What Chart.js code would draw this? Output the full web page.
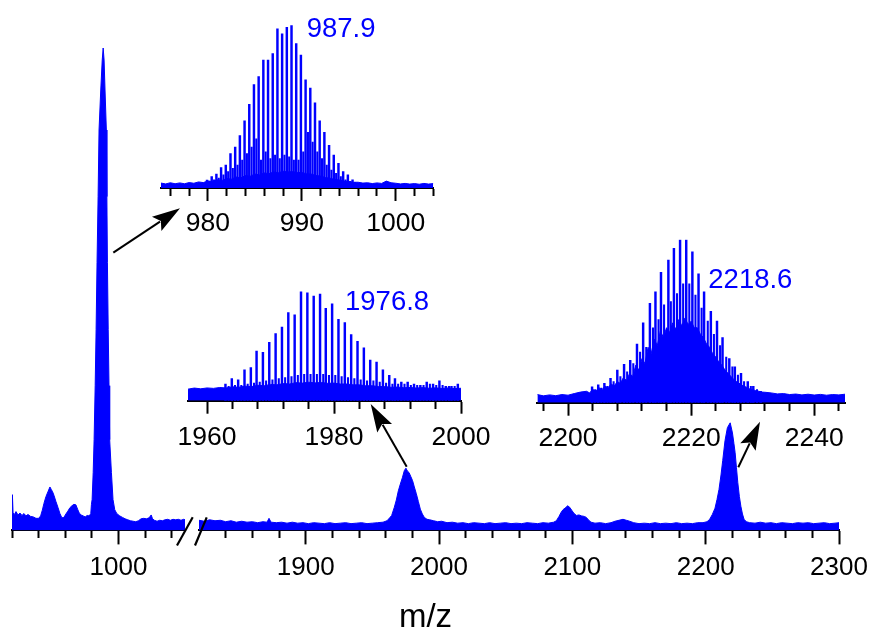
<!DOCTYPE html>
<html><head><meta charset="utf-8">
<script src="https://cdn.jsdelivr.net/npm/chart.js@4"></script>
<style>
html,body{margin:0;padding:0;background:#fff;overflow:hidden;}
#wrap{position:relative;width:872px;height:634px;overflow:hidden;}
canvas{position:absolute;left:0;top:0;}
svg{position:absolute;left:0;top:0;}
</style></head><body>
<div id="wrap">
<canvas id="main" width="872" height="634"></canvas>
<canvas id="in1" width="872" height="634"></canvas>
<canvas id="in2" width="872" height="634"></canvas>
<canvas id="in3" width="872" height="634"></canvas>
<svg id="ov" width="872" height="634" xmlns="http://www.w3.org/2000/svg"></svg>
</div>
<script>
// ---------------- DATA ----------------
// main spectrum, left segment (m/z 920-1050)
const mainLeftMz = [920,920.3,920.8,921.8,923,924.5,926,927.5,929,930.5,932,934,936,938,940,941.5,942.8,944,945.5,947,948.5,949.5,950.5,951.5,953,954.5,956,957.5,959,960.5,962,963.5,965,966.5,968,969.3,970.5,972,973.5,975,976.5,978,979.2,979.7,980.2,981.0,981.7,982.5,983.2,983.9,984.7,985.4,986.7,987.8,988.5,989.2,989.9,990.9,991.3,991.7,992.3,992.9,993.4,994.7,995.9,997.2,998.5,999.6,1001,1003,1005,1007,1009,1011,1013,1015,1017,1019,1021,1023,1024.6,1025.6,1027,1029,1031,1033,1035,1037,1039,1041,1043,1045,1047,1049,1050];
const mainLeftInt = [3.5,7.4,3.6,3.3,3.9,3.2,3.6,3.1,3.5,3.0,3.3,2.9,2.8,2.5,2.5,3.0,4.2,5.6,7.0,8.0,9.0,8.5,8.0,7.3,6.0,4.8,3.5,2.6,2.7,3.4,4.0,4.7,5.1,5.4,5.3,4.4,3.6,3.2,3.0,2.8,3.1,3.0,3.5,5.4,6.4,12.0,18.8,30.0,41.6,55.5,69.2,83.0,91.3,97.5,100,97.5,91.3,83.0,69.2,55.5,41.6,30.0,18.8,12.0,6.4,4.3,3.6,3.3,3.0,2.7,2.4,2.2,2.0,1.9,1.8,2.0,2.4,2.5,2.4,2.6,3.2,2.4,2.1,1.9,2.1,2.0,2.2,2.3,2.1,2.3,2.2,2.3,2.1,2.3,2.2];
// main spectrum, right segment (m/z 1820-2300)
const mainRightMz = [1820,1824,1828,1832,1836,1840,1844,1848,1852,1856,1860,1864,1868,1871,1872.5,1874,1878,1882,1886,1890,1894,1898,1902,1906,1910,1914,1918,1922,1926,1930,1934,1938,1942,1946,1950,1954,1958,1961,1963,1964.5,1966.5,1968,1969.5,1971,1972.5,1974,1975.2,1976.3,1977.5,1978.8,1980.2,1981.5,1983,1984.5,1986,1987.5,1989,1991,1993,1996,1999,2002,2006,2010,2014,2018,2022,2026,2030,2034,2038,2042,2046,2050,2054,2058,2062,2066,2070,2074,2078,2082,2086,2088,2090,2091.5,2093,2094.5,2096.5,2098,2099.5,2101,2103,2105,2107,2109,2110.5,2112,2114,2117,2121,2125,2129,2132,2135,2138,2140.5,2143,2146,2150,2154,2158,2162,2166,2170,2174,2178,2182,2186,2190,2194,2198,2201,2203,2205,2207,2208.5,2210,2211.5,2212.8,2214.5,2216.3,2218.4,2220.1,2221.2,2222.1,2223.1,2224.1,2225.3,2226.4,2227.6,2228.8,2230.5,2233,2237,2241,2245,2249,2253,2257,2261,2265,2269,2273,2277,2281,2285,2289,2293,2297,2300];
const mainRightInt = [2.1,1.9,2.2,2.0,2.1,1.8,2.0,1.7,1.9,1.7,1.8,1.6,1.8,1.7,2.5,1.7,1.6,1.7,1.5,1.7,1.5,1.6,1.4,1.6,1.5,1.4,1.6,1.4,1.5,1.6,1.4,1.5,1.6,1.4,1.5,1.6,1.7,2.0,2.6,3.1,4.8,6.3,8.2,9.6,10.9,12.4,12.9,12.3,12.0,11.2,10.3,9.0,7.6,6.0,4.4,3.4,2.7,2.3,2.2,2.0,1.8,1.9,1.6,1.7,1.5,1.6,1.4,1.6,1.5,1.4,1.6,1.4,1.5,1.6,1.4,1.5,1.4,1.6,1.5,1.4,1.6,1.5,1.7,2.0,2.9,3.7,4.3,4.6,5.1,4.8,4.2,3.6,3.1,3.2,3.0,2.9,2.7,2.2,1.7,1.5,1.6,1.4,1.6,1.9,2.1,2.3,2.1,1.9,1.6,1.4,1.5,1.4,1.6,1.4,1.5,1.4,1.6,1.4,1.5,1.4,1.6,1.6,1.8,2.3,3.3,4.6,6.4,8.5,11.5,14.5,18.6,21.3,22.3,20.2,18.0,16.1,13.0,9.9,7.0,5.0,3.4,2.3,1.8,1.6,1.5,1.7,1.5,1.6,1.4,1.6,1.5,1.4,1.6,1.5,1.6,1.4,1.5,1.6,1.4,1.5,1.6];
const mainLeftTicks = [920,940,960,980,1000,1020,1040];
const mainRightTicks = [1840,1860,1880,1900,1920,1940,1960,1980,2000,2020,2040,2060,2080,2100,2120,2140,2160,2180,2200,2220,2240,2260,2280,2300];
const mainMajor = [1000,1900,2000,2100,2200,2300];

// inset 1 (987.9)
const in1Pos = [979.9,980.4,980.9,981.4,981.9,982.4,982.9,983.4,983.9,984.4,984.9,985.4,985.9,986.4,986.9,987.4,987.9,988.4,988.9,989.4,989.9,990.4,990.9,991.4,991.9,992.4,992.9,993.4,993.9,994.4,994.9,995.4];
const in1H = [4.9,6.9,8.5,12.4,14,21,25,32,41,51,63,68,78,78,82,97,94,98,99,88,81,66,61,52,41,34,26,20,15,10,8,5];
const in1SecPos = [980.15,980.65,981.15,981.65,982.15,982.65,983.15,983.65,984.15,984.65,985.15,985.65,986.15,986.65,987.15,987.65,988.15,988.65,989.15,989.65,990.15,990.65,991.15,991.65,992.15,992.65,993.15,993.65,994.15,994.65,995.15,995.65];
const in1SecH = [4,5,6,8,10,12,14,17,21,25,30,17,22,18,20,18,20,19,17,17,22,34,28,22,18,14,11,9,7,5,4,3.5];
const in1BaseMz = [975,975.5,976,976.5,977,977.5,978,978.5,979,979.5,980,980.5,981,981.5,982,982.5,983,983.5,984,984.5,985,985.5,986,986.5,987,987.5,988,988.5,989,989.5,990,990.5,991,991.5,992,992.5,993,993.5,994,994.5,995,995.5,996,996.5,997,997.5,998,998.5,999,999.5,1000,1000.5,1001,1001.5,1002,1002.5,1003,1003.5,1004];
const in1BaseH = [3.0,2.5,3.2,2.6,3.1,2.6,3.3,2.9,3.7,3.3,4.3,3.9,5.0,4.6,5.8,5.4,6.7,6.2,7.6,7.2,8.5,8.0,9.2,8.7,9.8,9.3,10.2,9.8,10.0,9.5,9.4,8.7,8.5,7.6,7.3,6.4,6.0,5.2,4.9,4.2,4.0,3.5,3.5,3.0,3.2,2.7,3.1,2.8,4.2,3.2,2.9,2.5,2.8,2.4,2.7,2.3,2.8,2.4,2.7];
const in1Ticks = [976,978,980,982,984,986,988,990,992,994,996,998,1000,1002,1004];
const in1Major = [980,990,1000];

// inset 2 (1976.8)
const in2Pos = [1962.9,1963.9,1964.9,1965.9,1966.9,1967.8,1968.8,1969.8,1970.8,1971.8,1972.8,1973.8,1974.8,1975.8,1976.8,1977.8,1978.7,1979.7,1980.7,1981.7,1982.7,1983.7,1984.7,1985.7,1986.7,1987.7,1988.7,1989.6,1990.6,1991.6,1992.6,1993.6,1994.6,1995.6,1996.6,1997.6,1998.5,1999.5];
const in2H = [15,20,19,28,30,45,44,53,61,67,80,78,99,98,95,97,84,88,74,71,60,54,48,37,35,28,23,20,17,17,15,14,17,15,18,13,13,15];
const in2SecPos = [1963.4,1964.4,1965.4,1966.4,1967.4,1968.3,1969.3,1970.3,1971.3,1972.3,1973.3,1974.3,1975.3,1976.3,1977.3,1978.3,1979.2,1980.2,1981.2,1982.2,1983.2,1984.2,1985.2,1986.2,1987.2,1988.2,1989.2,1990.1,1991.1,1992.1,1993.1,1994.1,1995.1,1996.1,1997.1,1998.1,1999.0];
const in2SecH = [13,14,14,15,16,17,18,19,20,21,22,23,24,24,24,24,23,23,22,21,20,19,18,18,17,16,15,15,15,14,14,14,15,14,14,13,13];
const in2BaseMz = [1957,1958,1959,1960,1961,1962,1963,1964,1965,1966,1967,1968,1969,1970,1971,1972,1973,1974,1975,1976,1977,1978,1979,1980,1981,1982,1983,1984,1985,1986,1987,1988,1989,1990,1991,1992,1993,1994,1995,1996,1997,1998,1999,2000];
const in2BaseH = [10.5,11.5,10.8,11.6,11.2,12.0,11.6,12.6,12.2,13.2,12.8,14.0,13.6,14.8,14.4,15.6,15.2,16.4,16.0,16.8,16.2,16.6,15.8,16.0,15.2,15.2,14.4,14.4,13.6,13.6,12.9,12.8,12.2,12.4,11.8,12.0,11.5,11.9,11.3,11.7,11.1,11.6,11.0,11.3];
const in2Ticks = [1960,1964,1968,1972,1976,1980,1984,1988,1992,1996,2000];
const in2Major = [1960,1980,2000];

// inset 3 (2218.6)
const in3Pos = [2203.9,2204.9,2205.9,2206.9,2208.0,2209.1,2210.1,2211.2,2212.2,2213.3,2214.2,2215.1,2216.3,2217.2,2218.2,2219.2,2220.2,2221.2,2222.1,2223.2,2224.2,2225.1,2226.2,2227.1,2228.1,2229.2,2230.1,2231.3];
const in3H = [9.8,10.9,11.9,15,20,23.5,26,36,49,61,68,80,87.5,94.7,100,100,92.6,79,68,56,50,40,27,22,18,13,10,7];
const in3SecPos = [2204.4,2205.4,2206.4,2207.4,2208.5,2209.6,2210.6,2211.7,2212.7,2213.8,2214.7,2215.6,2216.7,2217.7,2218.7,2219.7,2220.7,2221.7,2222.7,2223.7,2224.7,2225.7,2226.7,2227.6,2228.6,2229.7,2230.7];
const in3SecH = [8,9,10,13,16,19,24,31,34,46,51,60,62,67,73,73,66,58,50,42,35,28,22,17,13,10,8];
const in3BaseMz = [2195,2196,2197,2198,2199,2200,2201,2202,2203,2203.5,2204,2204.5,2205,2205.5,2206,2206.5,2207,2207.5,2208,2208.5,2209,2209.5,2210,2210.5,2211,2211.5,2212,2212.5,2213,2213.5,2214,2214.5,2215,2215.5,2216,2216.5,2217,2217.5,2218,2218.5,2219,2219.5,2220,2220.5,2221,2221.5,2222,2222.5,2223,2223.5,2224,2224.5,2225,2225.5,2226,2226.5,2227,2227.5,2228,2228.5,2229,2229.5,2230,2230.5,2231,2231.5,2232,2233,2234,2235,2236,2237,2238,2239,2240,2241,2242,2243,2244,2245];
const in3BaseH = [5.0,4.2,4.8,4.3,5.0,4.6,5.6,6.5,7.0,6.0,8.2,7.0,9.2,8.0,10.0,9.2,11.5,10.2,13.0,11.8,15.5,13.5,18,16,23,20,27,24,34,30,39,35,44,40,46,43,49,45,51,47,52,48,50,46,46,42,40,36,34,30,28,25,23,20,18,16,14,12.5,11.5,10.2,9.5,8.5,8,7.4,7,6.5,6.4,6.0,5.4,5.6,5.0,5.3,4.8,5.2,4.7,5.1,4.6,5.0,4.8,5.2];
const in3Ticks = [2196,2200,2204,2208,2212,2216,2220,2224,2228,2232,2236,2240,2244];
const in3Major = [2200,2220,2240];

const peakLabels = ['987.9','1976.8','2218.6'];

// ---------------- RENDER ----------------
const BLUE = '#0000ff';
const FONT = '"Liberation Sans", Arial, Helvetica, sans-serif';
const xy = (xs, ys) => xs.map((x, i) => ({x: x, y: ys[i]}));
const noPad = s => { s.paddingLeft = 0; s.paddingRight = 0; };

function tickAxis(o) {
  return Object.assign({
    type: 'linear', axis: 'x', position: 'bottom', min: o.min, max: o.max, offset: false,
    afterBuildTicks: s => { s.ticks = o.ticks.map(v => ({value: v})); },
    afterFit: noPad,
    ticks: {
      autoSkip: false, maxRotation: 0, minRotation: 0, padding: o.pad, color: '#000',
      font: {family: FONT, size: o.size},
      callback: v => o.major.includes(v) ? String(v) : ''
    },
    grid: {
      display: true, offset: false, drawOnChartArea: false, drawTicks: true,
      tickLength: o.tl, tickWidth: 2, tickColor: '#000',
      tickBorderDash: ctx => (ctx.tick && o.major.includes(ctx.tick.value)) ? [] : [o.minor, 300]
    },
    border: {display: true, color: '#000', width: 2}
  }, o.extra || {});
}

const common = {
  responsive: false, animation: false, events: [],
  plugins: {legend: {display: false}, tooltip: {enabled: false}}
};

new Chart(document.getElementById('main'), {
  type: 'line',
  data: {datasets: [
    {data: xy(mainLeftMz, mainLeftInt), xAxisID: 'xL', yAxisID: 'y', borderColor: BLUE, backgroundColor: BLUE, borderWidth: 1, fill: 'origin', pointRadius: 0, tension: 0},
    {data: xy(mainRightMz, mainRightInt), xAxisID: 'xR', yAxisID: 'y', borderColor: BLUE, backgroundColor: BLUE, borderWidth: 1, fill: 'origin', pointRadius: 0, tension: 0}
  ]},
  options: Object.assign({}, common, {
    layout: {padding: {left: 12, right: 33, top: 48, bottom: 0}},
    plugins: {
      legend: {display: false}, tooltip: {enabled: false},
      title: {display: true, text: 'm/z', position: 'bottom', color: '#000',
        font: {family: FONT, size: 33, weight: 'normal', lineHeight: 1}, padding: {top: 10.2, bottom: 0}}
    },
    scales: {
      xL: tickAxis({min: 920, max: 1050, ticks: mainLeftTicks, major: mainMajor, tl: 14, minor: 7, pad: 7.6, size: 26, extra: {stack: 'mz', stackWeight: 173}}),
      xG: {type: 'linear', axis: 'x', position: 'bottom', stack: 'mz', stackWeight: 14, min: 0, max: 1,
           afterFit: noPad, grid: {display: false, drawTicks: false}, ticks: {display: false}, border: {display: false}},
      xR: tickAxis({min: 1820, max: 2300, ticks: mainRightTicks, major: mainMajor, tl: 14, minor: 7, pad: 7.6, size: 26, extra: {stack: 'mz', stackWeight: 640}}),
      y: {display: false, min: 0, max: 100}
    }
  })
});

function inset(id, d) {
  return new Chart(document.getElementById(id), {
    type: 'bar',
    data: {datasets: [
      {type: 'line', data: xy(d.baseMz, d.baseH), borderColor: BLUE, backgroundColor: BLUE, borderWidth: 1, fill: 'origin', pointRadius: 0, tension: 0, order: 3},
      {type: 'bar', data: xy(d.secPos, d.secH), backgroundColor: BLUE, barThickness: 1.4, grouped: false, order: 2},
      {type: 'bar', data: xy(d.pos, d.h), backgroundColor: BLUE, barThickness: 1.8, grouped: false, order: 1}
    ]},
    options: Object.assign({}, common, {
      layout: {padding: d.padding},
      scales: {
        x: tickAxis({min: d.min, max: d.max, ticks: d.ticks, major: d.major, tl: 13, minor: 7, pad: d.pad, size: 26.5}),
        y: {display: false, min: 0, max: 100}
      }
    })
  });
}

inset('in1', {pos: in1Pos, h: in1H, secPos: in1SecPos, secH: in1SecH, baseMz: in1BaseMz, baseH: in1BaseH,
  ticks: in1Ticks, major: in1Major, min: 975, max: 1004, pad: 6.6,
  padding: {left: 161, right: 438.7, top: 24, bottom: 388}});
inset('in2', {pos: in2Pos, h: in2H, secPos: in2SecPos, secH: in2SecH, baseMz: in2BaseMz, baseH: in2BaseH,
  ticks: in2Ticks, major: in2Major, min: 1957, max: 2000, pad: 7.9,
  padding: {left: 188, right: 411, top: 290.7, bottom: 172.7}});
inset('in3', {pos: in3Pos, h: in3H, secPos: in3SecPos, secH: in3SecH, baseMz: in3BaseMz, baseH: in3BaseH,
  ticks: in3Ticks, major: in3Major, min: 2195, max: 2245, pad: 7.4,
  padding: {left: 537.3, right: 27, top: 239.7, bottom: 171.7}});

// ---------------- ANNOTATIONS (overlay) ----------------
const NS = 'http://www.w3.org/2000/svg';
const ov = document.getElementById('ov');
function el(tag, attrs, text) {
  const e = document.createElementNS(NS, tag);
  for (const k in attrs) e.setAttribute(k, attrs[k]);
  if (text) e.textContent = text;
  ov.appendChild(e);
  return e;
}
const labelPos = [[306.7, 36.7], [345, 310], [708.3, 287.7]];
peakLabels.forEach((t, i) => el('text', {x: labelPos[i][0], y: labelPos[i][1], fill: BLUE,
  'font-family': 'Liberation Sans, Arial, sans-serif', 'font-size': 27.5}, t));

const arrows = [[113.3, 252.7, 180, 208.3], [406.7, 466.7, 370.7, 404], [738.3, 467.3, 760, 421.7]];
arrows.forEach(([x1, y1, x2, y2]) => {
  const dx = x2 - x1, dy = y2 - y1, len = Math.hypot(dx, dy);
  const ux = dx / len, uy = dy / len, nx = -uy, ny = ux;
  const L = 28, W = 8.5;
  const bx = x2 - ux * L, by = y2 - uy * L;
  el('line', {x1: x1, y1: y1, x2: bx + ux * 4, y2: by + uy * 4, stroke: '#000', 'stroke-width': 2});
  el('polygon', {points: `${x2},${y2} ${bx + nx * W},${by + ny * W} ${bx + ux * 5},${by + uy * 5} ${bx - nx * W},${by - ny * W}`, fill: '#000'});
});
// axis break marks
el('line', {x1: 177, y1: 545.5, x2: 192.7, y2: 517.3, stroke: '#000', 'stroke-width': 2.2});
el('line', {x1: 195, y1: 545.5, x2: 206.7, y2: 517.3, stroke: '#000', 'stroke-width': 2.2});
</script>
</body></html>
